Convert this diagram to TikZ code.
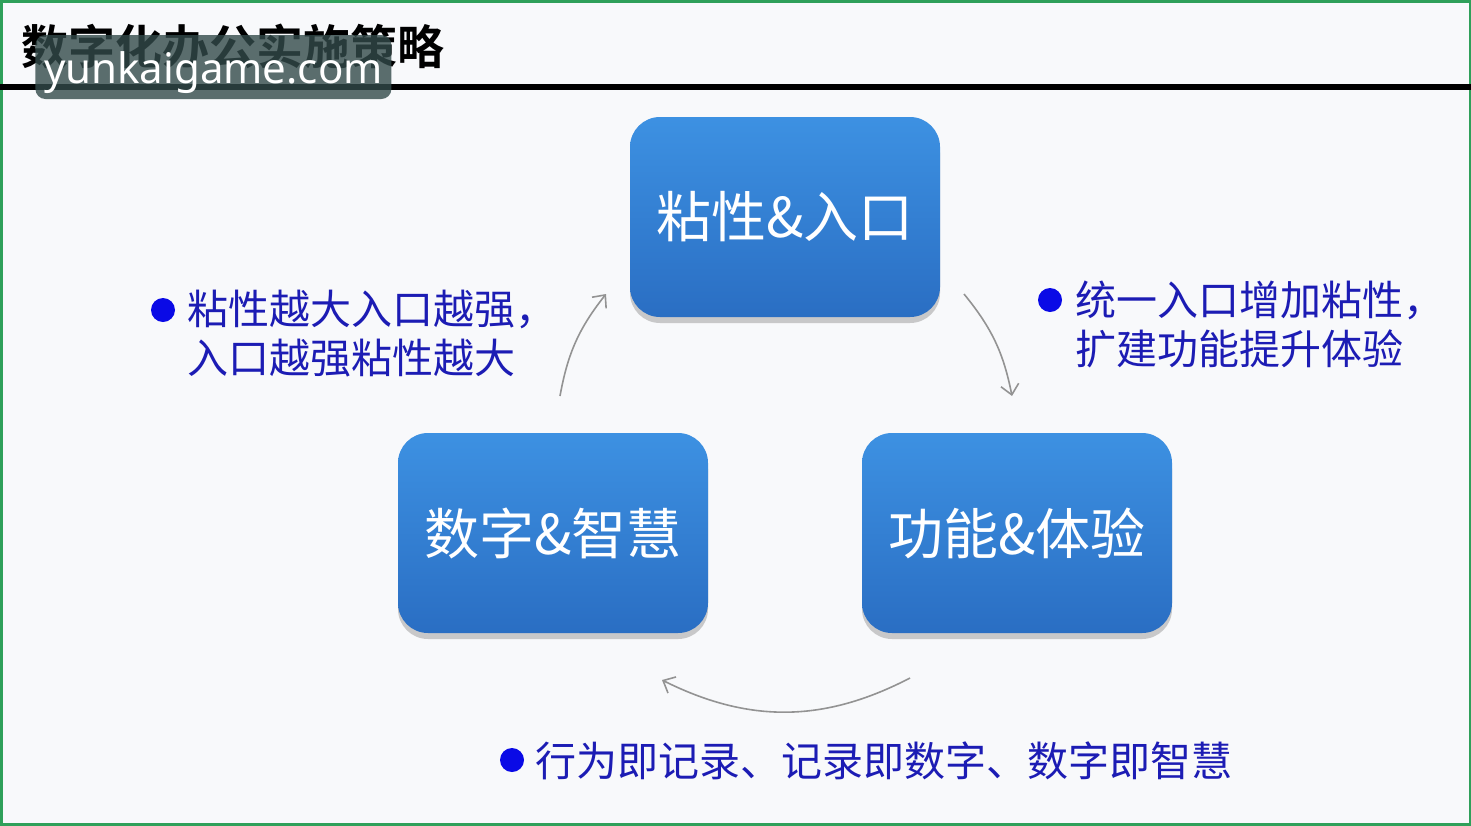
\documentclass[tikz,border=0pt]{standalone}
\usepackage{fontspec}
\setmainfont{Noto Sans}
\newfontfamily\cjk{Noto Sans CJK SC}
\newfontfamily\cjkbold{Noto Sans CJK SC Bold}
\usepackage{tikz}
\usetikzlibrary{positioning}
\usetikzlibrary{calc}
\usetikzlibrary{arrows.meta}
\usetikzlibrary{shadows}

\definecolor{boxtop}{HTML}{3D91E2}
\definecolor{boxbot}{HTML}{2A6EC3}
\definecolor{notetext}{HTML}{1C1CB4}
\definecolor{notedot}{HTML}{0A0AE6}
\definecolor{framegreen}{HTML}{2FA05A}
\definecolor{paper}{HTML}{F8F9FB}

\tikzset{
  stage/.style={rounded corners=15pt, minimum width=155pt, minimum height=100pt,
    top color=boxtop, bottom color=boxbot, text=white,
    font=\cjk\fontsize{27.5}{30}\selectfont,
    drop shadow={shadow xshift=0pt, shadow yshift=-3pt, fill=black!40, opacity=0.5}},
  note/.style={anchor=west, text=notetext, align=left,
    font=\cjk\fontsize{20.5}{24.5}\selectfont, inner sep=0pt},
  dot/.style={circle, fill=notedot, minimum size=12pt, inner sep=0pt},
  cycle/.style={draw=gray!85, line width=0.8pt,
    -{Straight Barb[length=5pt, width=9pt]}},
}

\begin{document}
\begin{tikzpicture}[x=0.5pt, y=-0.5pt]
  \useasboundingbox (0,0) rectangle (1471,825);
  \fill[paper] (0,0) rectangle (1471,825);
  \draw[framegreen, line width=1.5pt] (1,1) rectangle (1470,824);

  % title and rule
  \node[anchor=west, font=\cjkbold\fontsize{23.5}{26}\selectfont] (title) at (14,47) {数字化办公实施策略};
  \draw[black, line width=3pt] (0,87) -- (1471,87);

  % watermark
  \node[anchor=west, fill=black!70!teal!60!gray, fill opacity=0.8, text opacity=1,
    text=white, rounded corners=5pt, minimum width=178pt, minimum height=32pt,
    text height=19pt, text depth=3pt, font=\fontsize{21}{24}\selectfont] (mark) at (35,67) {yunkaigame.com};

  % the three stages
  \node[stage] (entry) at (785,217) {粘性\&入口};
  \node[stage] (wisdom) at (553,533) {数字\&智慧};
  \node[stage] (feature) at (1017,533) {功能\&体验};

  % arrows between the stages
  \coordinate (a1) at (560,396);
  \coordinate (a2) at (606,294);
  \coordinate (b1) at (964,294);
  \coordinate (b2) at (1012,396);
  \coordinate (c1) at (910,678);
  \coordinate (c2) at (662,680);
  \draw[cycle] (a1) to[bend left=14] (a2);
  \draw[cycle] (b1) to[bend left=14] (b2);
  \draw[cycle] (c1) to[bend left=27] (c2);

  % notes
  \node[dot] (dl) at (163,310) {};
  \node[note] (nl) at (187,334) {粘性越大入口越强，\\入口越强粘性越大};
  \node[dot] (dr) at (1050,300) {};
  \node[note] (nr) at (1075,324) {统一入口增加粘性，\\扩建功能提升体验};
  \node[dot] (db) at (512,760) {};
  \node[note] (nb) at (535,761) {行为即记录、记录即数字、数字即智慧};
\end{tikzpicture}
\end{document}
